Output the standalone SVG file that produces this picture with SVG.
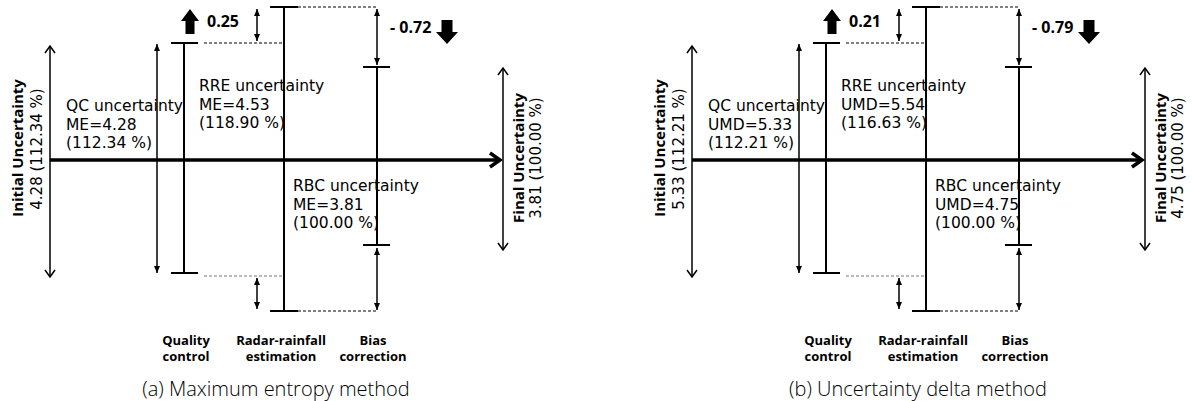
<svg xmlns="http://www.w3.org/2000/svg" width="1192" height="401" viewBox="0 0 1192 401">
<style>
.bg{fill:#fff}
.ln{stroke:#000;stroke-width:1.5;fill:none}
.bar{stroke:#000;stroke-width:2;fill:none}
.main{stroke:#000;stroke-width:3.5;fill:none}
.dash{stroke:#000;stroke-width:1;stroke-dasharray:3 2;fill:none}
.dashg{stroke:#777;stroke-width:1.2;stroke-dasharray:3 2;fill:none}
.blk{fill:#000}
.lbl{font-family:"DejaVu Sans","Open Sans",sans-serif;font-size:15.5px;fill:#000}
.num{font-family:"Open Sans","DejaVu Sans",sans-serif;font-size:16px;font-weight:bold;fill:#000}
.vt{font-family:"Open Sans","DejaVu Sans",sans-serif;font-size:15px;font-weight:bold;fill:#000;text-anchor:middle}
.vt2{font-family:"DejaVu Sans","Open Sans",sans-serif;font-size:15px;fill:#000;text-anchor:middle}
.stp{font-family:"Open Sans","DejaVu Sans",sans-serif;font-size:13px;font-weight:bold;fill:#000;text-anchor:middle}
.cap{font-family:"Open Sans","DejaVu Sans",sans-serif;font-size:20px;font-weight:300;fill:#000;text-anchor:middle}
</style>
<defs>
<marker id="chev" markerUnits="userSpaceOnUse" markerWidth="14" markerHeight="14" viewBox="-11 -7 14 14" refX="0" refY="0" orient="auto-start-reverse">
<path d="M-7,-5 L0,0 L-7,5" stroke="#000" stroke-width="1.5" fill="none"/>
</marker>
<marker id="tri" markerUnits="userSpaceOnUse" markerWidth="10" markerHeight="10" viewBox="-9 -5 10 10" refX="0" refY="0" orient="auto-start-reverse">
<path d="M-7,-3 L0,0 L-7,3 Z" fill="#000"/>
</marker>
<marker id="big" markerUnits="userSpaceOnUse" markerWidth="20" markerHeight="20" viewBox="-14 -10 20 20" refX="0" refY="0" orient="auto">
<path d="M-10,-7 L0,0 L-10,7" stroke="#000" stroke-width="3.5" fill="none"/>
</marker>
</defs>
<rect class="bg" x="0" y="0" width="1192" height="401"/>

<!-- Panel (a) -->
<g id="panel-a">
<g id="a-connectors">
<line class="main" x1="50" y1="160" x2="500" y2="160" marker-end="url(#big)"/>
<line class="ln" x1="50" y1="46" x2="50" y2="277" marker-start="url(#chev)" marker-end="url(#chev)"/>
<line class="ln" x1="157" y1="44" x2="157" y2="273" marker-start="url(#tri)" marker-end="url(#tri)"/>
<line class="ln" x1="257" y1="9" x2="257" y2="41" marker-start="url(#tri)" marker-end="url(#tri)"/>
<line class="ln" x1="257" y1="278" x2="257" y2="309" marker-start="url(#tri)" marker-end="url(#tri)"/>
<line class="ln" x1="377" y1="9" x2="377" y2="65" marker-start="url(#tri)" marker-end="url(#tri)"/>
<line class="ln" x1="377" y1="248" x2="377" y2="310" marker-start="url(#tri)" marker-end="url(#tri)"/>
<line class="ln" x1="503" y1="68" x2="503" y2="250" marker-start="url(#chev)" marker-end="url(#chev)"/>
<line class="dash" x1="204" y1="43" x2="284" y2="43"/>
<line class="dashg" x1="204" y1="276" x2="284" y2="276"/>
<line class="dash" x1="298" y1="7" x2="377" y2="7"/>
<line class="dash" x1="298" y1="311" x2="377" y2="311"/>
</g>
<g id="a-qc-bar">
<line class="bar" x1="184" y1="43" x2="184" y2="273"/>
<line class="bar" x1="171" y1="43" x2="198" y2="43"/>
<line class="bar" x1="171" y1="273" x2="198" y2="273"/>
</g>
<g id="a-rre-bar">
<line class="bar" x1="284" y1="7" x2="284" y2="311"/>
<line class="bar" x1="270" y1="7" x2="298" y2="7"/>
<line class="bar" x1="270" y1="311" x2="298" y2="311"/>
</g>
<g id="a-rbc-bar">
<line class="bar" x1="377" y1="67" x2="377" y2="245"/>
<line class="bar" x1="363" y1="67" x2="390" y2="67"/>
<line class="bar" x1="363" y1="245" x2="390" y2="245"/>
</g>
<g id="a-up">
<polygon class="blk" points="190,9 199,21 194.5,21 194.5,34 185.5,34 185.5,21 181,21"/>
<text class="num" x="207" y="27">0.25</text>
</g>
<g id="a-down">
<polygon class="blk" points="441.5,20 452.5,20 452.5,32 458,32 447,44 436,32 441.5,32"/>
<text class="num" x="390" y="33">- 0.72</text>
</g>
<g id="a-initial">
<text class="vt" transform="translate(23,148) rotate(-90)">Initial Uncertainty</text>
<text class="vt2" transform="translate(42,149) rotate(-90)">4.28 (112.34 %)</text>
</g>
<g id="a-final">
<text class="vt" transform="translate(524,158) rotate(-90)">Final Uncertainty</text>
<text class="vt2" transform="translate(541,158) rotate(-90)">3.81 (100.00 %)</text>
</g>
<g id="a-qc">
<text class="lbl" x="66" y="111">QC uncertainty</text>
<text class="lbl" x="66" y="130">ME=4.28</text>
<text class="lbl" x="66" y="148">(112.34 %)</text>
</g>
<g id="a-rre">
<text class="lbl" x="199" y="91">RRE uncertainty</text>
<text class="lbl" x="199" y="110">ME=4.53</text>
<text class="lbl" x="199" y="128">(118.90 %)</text>
</g>
<g id="a-rbc">
<text class="lbl" x="293" y="191">RBC uncertainty</text>
<text class="lbl" x="293" y="210">ME=3.81</text>
<text class="lbl" x="293" y="228">(100.00 %)</text>
</g>
<g id="a-steps">
<text class="stp" x="186" y="345">Quality</text>
<text class="stp" x="186" y="361">control</text>
<text class="stp" x="281" y="345">Radar-rainfall</text>
<text class="stp" x="281" y="361">estimation</text>
<text class="stp" x="373" y="345">Bias</text>
<text class="stp" x="373" y="361">correction</text>
</g>
<text class="cap" x="276" y="396">(a) Maximum entropy method</text>
</g>

<!-- Panel (b) -->
<g id="panel-b" transform="translate(642,0)">
<g id="b-connectors">
<line class="main" x1="50" y1="160" x2="500" y2="160" marker-end="url(#big)"/>
<line class="ln" x1="50" y1="46" x2="50" y2="277" marker-start="url(#chev)" marker-end="url(#chev)"/>
<line class="ln" x1="157" y1="44" x2="157" y2="273" marker-start="url(#tri)" marker-end="url(#tri)"/>
<line class="ln" x1="257" y1="9" x2="257" y2="41" marker-start="url(#tri)" marker-end="url(#tri)"/>
<line class="ln" x1="257" y1="278" x2="257" y2="309" marker-start="url(#tri)" marker-end="url(#tri)"/>
<line class="ln" x1="377" y1="9" x2="377" y2="65" marker-start="url(#tri)" marker-end="url(#tri)"/>
<line class="ln" x1="377" y1="248" x2="377" y2="310" marker-start="url(#tri)" marker-end="url(#tri)"/>
<line class="ln" x1="503" y1="68" x2="503" y2="250" marker-start="url(#chev)" marker-end="url(#chev)"/>
<line class="dash" x1="204" y1="43" x2="284" y2="43"/>
<line class="dashg" x1="204" y1="276" x2="284" y2="276"/>
<line class="dash" x1="298" y1="7" x2="377" y2="7"/>
<line class="dash" x1="298" y1="311" x2="377" y2="311"/>
</g>
<g id="b-qc-bar">
<line class="bar" x1="184" y1="43" x2="184" y2="273"/>
<line class="bar" x1="171" y1="43" x2="198" y2="43"/>
<line class="bar" x1="171" y1="273" x2="198" y2="273"/>
</g>
<g id="b-rre-bar">
<line class="bar" x1="284" y1="7" x2="284" y2="311"/>
<line class="bar" x1="270" y1="7" x2="298" y2="7"/>
<line class="bar" x1="270" y1="311" x2="298" y2="311"/>
</g>
<g id="b-rbc-bar">
<line class="bar" x1="377" y1="67" x2="377" y2="245"/>
<line class="bar" x1="363" y1="67" x2="390" y2="67"/>
<line class="bar" x1="363" y1="245" x2="390" y2="245"/>
</g>
<g id="b-up">
<polygon class="blk" points="190,9 199,21 194.5,21 194.5,34 185.5,34 185.5,21 181,21"/>
<text class="num" x="207" y="27">0.21</text>
</g>
<g id="b-down">
<polygon class="blk" points="441.5,20 452.5,20 452.5,32 458,32 447,44 436,32 441.5,32"/>
<text class="num" x="390" y="33">- 0.79</text>
</g>
<g id="b-initial">
<text class="vt" transform="translate(23,148) rotate(-90)">Initial Uncertainty</text>
<text class="vt2" transform="translate(42,149) rotate(-90)">5.33 (112.21 %)</text>
</g>
<g id="b-final">
<text class="vt" transform="translate(524,158) rotate(-90)">Final Uncertainty</text>
<text class="vt2" transform="translate(541,158) rotate(-90)">4.75 (100.00 %)</text>
</g>
<g id="b-qc">
<text class="lbl" x="66" y="111">QC uncertainty</text>
<text class="lbl" x="66" y="130">UMD=5.33</text>
<text class="lbl" x="66" y="148">(112.21 %)</text>
</g>
<g id="b-rre">
<text class="lbl" x="199" y="91">RRE uncertainty</text>
<text class="lbl" x="199" y="110">UMD=5.54</text>
<text class="lbl" x="199" y="128">(116.63 %)</text>
</g>
<g id="b-rbc">
<text class="lbl" x="293" y="191">RBC uncertainty</text>
<text class="lbl" x="293" y="210">UMD=4.75</text>
<text class="lbl" x="293" y="228">(100.00 %)</text>
</g>
<g id="b-steps">
<text class="stp" x="186" y="345">Quality</text>
<text class="stp" x="186" y="361">control</text>
<text class="stp" x="281" y="345">Radar-rainfall</text>
<text class="stp" x="281" y="361">estimation</text>
<text class="stp" x="373" y="345">Bias</text>
<text class="stp" x="373" y="361">correction</text>
</g>
<text class="cap" x="276" y="396">(b) Uncertainty delta method</text>
</g>
</svg>
